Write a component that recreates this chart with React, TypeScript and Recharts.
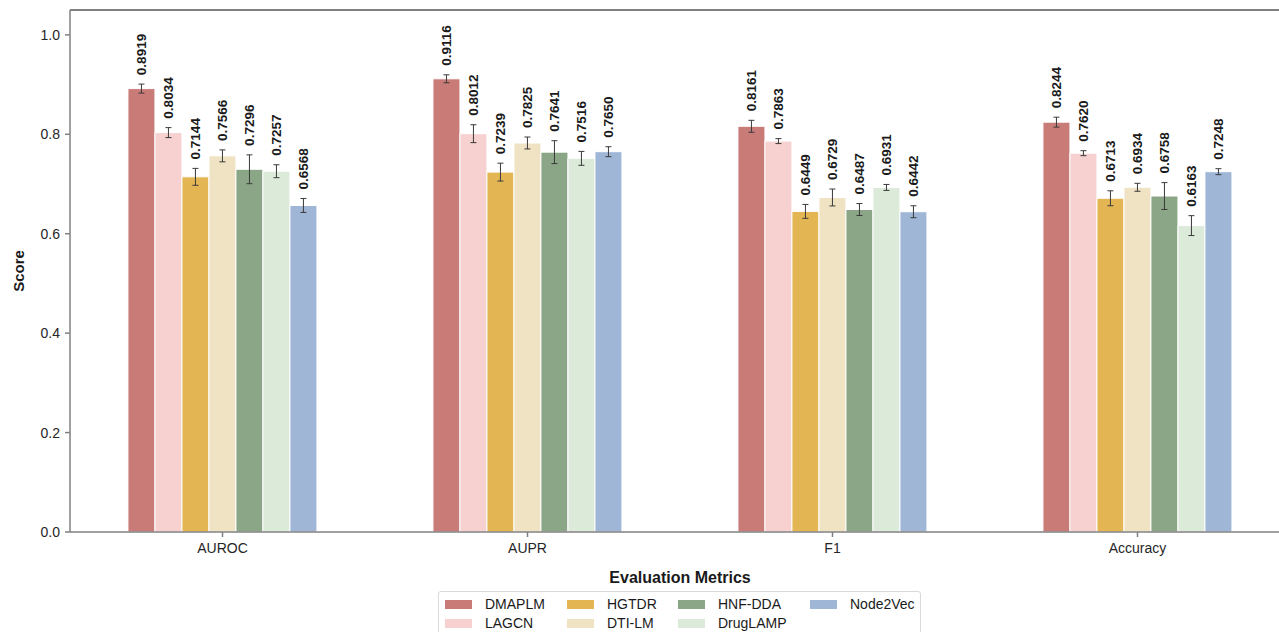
import React from "react";
import { BarChart, Bar, XAxis, YAxis, ErrorBar, LabelList, ReferenceLine, Label } from "recharts";

const categories = ["AUROC", "AUPR", "F1", "Accuracy"];
const seriesNames = ["DMAPLM", "LAGCN", "HGTDR", "DTI-LM", "HNF-DDA", "DrugLAMP", "Node2Vec"];
const seriesKeys = ["dmaplm", "lagcn", "hgtdr", "dtilm", "hnfdda", "druglamp", "node2vec"];
const seriesColors = ["#c97b78", "#f6d1d0", "#e3b653", "#efe3c4", "#8ba686", "#dcead9", "#9fb6d7"];

const dmaplm = [0.8919, 0.9116, 0.8161, 0.8244];
const lagcn = [0.8034, 0.8012, 0.7863, 0.762];
const hgtdr = [0.7144, 0.7239, 0.6449, 0.6713];
const dtilm = [0.7566, 0.7825, 0.6729, 0.6934];
const hnfdda = [0.7296, 0.7641, 0.6487, 0.6758];
const druglamp = [0.7257, 0.7516, 0.6931, 0.6163];
const node2vec = [0.6568, 0.765, 0.6442, 0.7248];

const dmaplmErr = [0.009, 0.008, 0.012, 0.01];
const lagcnErr = [0.01, 0.018, 0.005, 0.005];
const hgtdrErr = [0.017, 0.018, 0.014, 0.015];
const dtilmErr = [0.012, 0.012, 0.017, 0.008];
const hnfddaErr = [0.029, 0.023, 0.012, 0.027];
const druglampErr = [0.013, 0.014, 0.006, 0.02];
const node2vecErr = [0.014, 0.01, 0.012, 0.006];

const yTicks = [0, 0.2, 0.4, 0.6, 0.8, 1.0];

const seriesValues = [dmaplm, lagcn, hgtdr, dtilm, hnfdda, druglamp, node2vec];
const seriesErrors = [dmaplmErr, lagcnErr, hgtdrErr, dtilmErr, hnfddaErr, druglampErr, node2vecErr];

const data = categories.map((c, i) => {
  const row: any = { name: c };
  seriesKeys.forEach((k, s) => {
    row[k] = seriesValues[s][i];
    row[k + "Err"] = seriesErrors[s][i];
  });
  return row;
});

const FONT = "'Liberation Sans', Arial, Helvetica, sans-serif";
const AXIS = "#808080";

const makeLabel = (errs: number[]) => (props: any) => {
  const { x, y, width, height, value, index } = props;
  const v = Number(value);
  const scale = Number(height) / v;
  const errPx = errs[index] * scale;
  const cx = Number(x) + Number(width) / 2;
  const ty = Number(y) - errPx - 9;
  return (
    <text
      x={cx}
      y={ty}
      transform={`rotate(-90, ${cx}, ${ty})`}
      textAnchor="start"
      dominantBaseline="central"
      fontFamily={FONT}
      fontSize={13.5}
      fontWeight="bold"
      fill="#1a1a1a"
    >
      {v.toFixed(4)}
    </text>
  );
};

const legendCols = [445, 567, 678, 810];

export default function App() {
  return (
    <div
      style={{
        position: "fixed",
        left: 0,
        top: 0,
        width: 1279,
        height: 632,
        overflow: "hidden",
        background: "#fff",
        fontFamily: FONT,
      }}
    >
      <BarChart
        width={1310}
        height={632}
        data={data}
        margin={{ top: 10, right: 20, left: 10, bottom: 70 }}
        barCategoryGap="19%"
        barGap={0}
      >
        <XAxis
          dataKey="name"
          height={30}
          axisLine={{ stroke: AXIS, strokeWidth: 1.5 }}
          tickLine={{ stroke: AXIS, strokeWidth: 1.5 }}
          tickSize={5}
          tick={{ fontSize: 14, fill: "#262626", fontFamily: FONT }}
          tickMargin={6}
        >
          <Label
            content={() => (
              <text
                x={680}
                y={583}
                textAnchor="middle"
                fontFamily={FONT}
                fontSize={16}
                fontWeight="bold"
                fill="#1a1a1a"
              >
                Evaluation Metrics
              </text>
            )}
          />
        </XAxis>
        <YAxis
          width={60}
          domain={[0, 1.05]}
          ticks={yTicks}
          allowDataOverflow
          tickFormatter={(v: number) => v.toFixed(1)}
          axisLine={{ stroke: AXIS, strokeWidth: 1.5 }}
          tickLine={{ stroke: AXIS, strokeWidth: 1.5 }}
          tickSize={5}
          tickMargin={5}
          tick={{ fontSize: 14, fill: "#262626", fontFamily: FONT }}
        >
          <Label
            content={() => (
              <text
                x={18}
                y={271}
                transform="rotate(-90, 18, 271)"
                textAnchor="middle"
                dominantBaseline="central"
                fontFamily={FONT}
                fontSize={15}
                fontWeight="bold"
                fill="#1a1a1a"
              >
                Score
              </text>
            )}
          />
        </YAxis>
        <ReferenceLine y={1.05} stroke={AXIS} strokeWidth={2} ifOverflow="visible" />
        {seriesKeys.map((k, s) => (
          <Bar
            key={k}
            dataKey={k}
            name={seriesNames[s]}
            fill={seriesColors[s]}
            stroke="#ffffff"
            strokeWidth={1}
            isAnimationActive={false}
          >
            <ErrorBar
              dataKey={k + "Err"}
              direction="y"
              width={3}
              stroke="#3a3a3a"
              strokeWidth={1}
              isAnimationActive={false}
            />
            <LabelList dataKey={k} content={makeLabel(seriesErrors[s])} />
          </Bar>
        ))}
      </BarChart>
      <div
        style={{
          position: "absolute",
          left: 438,
          top: 591,
          width: 483,
          height: 50,
          border: "1px solid #d9d9d9",
          borderRadius: 3,
          background: "#fff",
          boxSizing: "border-box",
        }}
      />
      {seriesNames.map((n, s) => {
        const col = Math.floor(s / 2);
        const row = s % 2;
        const left = legendCols[col];
        const top = row === 0 ? 597 : 616;
        return (
          <div
            key={n}
            style={{
              position: "absolute",
              left,
              top,
              height: 14,
              display: "flex",
              alignItems: "center",
              whiteSpace: "nowrap",
            }}
          >
            <div style={{ width: 27, height: 9, background: seriesColors[s] }} />
            <span style={{ marginLeft: 13, fontSize: 14, color: "#1a1a1a", lineHeight: "14px" }}>{n}</span>
          </div>
        );
      })}
    </div>
  );
}
